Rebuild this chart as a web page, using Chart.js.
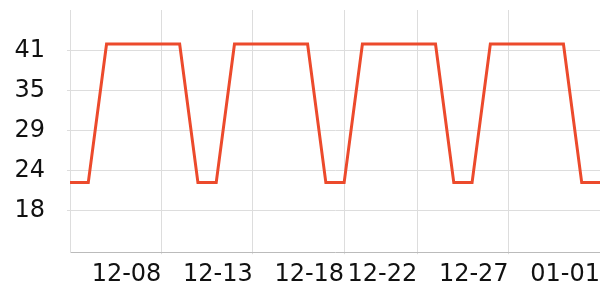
<!DOCTYPE html>
<html>
<head>
<meta charset="utf-8">
<script src="https://cdn.jsdelivr.net/npm/chart.js@4.4.0/dist/chart.umd.min.js"></script>
<style>
  html, body { margin: 0; padding: 0; background: #fff; }
  #wrap { width: 600px; height: 300px; }
</style>
</head>
<body>
<div id="wrap"><canvas id="c"></canvas></div>
<script>
// daily values, 12-03 .. 01-01
const days = ['12-03','12-04','12-05','12-06','12-07','12-08','12-09','12-10','12-11','12-12',
              '12-13','12-14','12-15','12-16','12-17','12-18','12-19','12-20','12-21','12-22',
              '12-23','12-24','12-25','12-26','12-27','12-28','12-29','12-30','12-31','01-01'];
const values = [21.8, 21.8, 41.7, 41.7, 41.7, 41.7, 41.7, 21.8, 21.8, 41.7,
                41.7, 41.7, 41.7, 41.7, 21.8, 21.8, 41.7, 41.7, 41.7, 41.7,
                41.7, 21.8, 21.8, 41.7, 41.7, 41.7, 41.7, 41.7, 21.8, 21.8];
const shownDays = ['12-08', '12-13', '12-18', '12-22', '12-27', '01-01'];
const yTicks = [17.75, 23.5, 29.25, 35, 40.75];
const yTickLabels = ['18', '24', '29', '35', '41'];

const font = { family: 'DejaVu Sans', size: 24 };

new Chart(document.getElementById('c'), {
    type: 'line',
    data: {
        labels: days,
        datasets: [{
            data: values,
            borderColor: '#ec4a2c',
            borderWidth: 3,
            pointRadius: 0,
            tension: 0,
            fill: false
        }]
    },
    options: {
        responsive: true,
        maintainAspectRatio: false,
        animation: false,
        layout: { padding: { left: 15, top: 10, right: 0, bottom: 5 } },
        plugins: { legend: { display: false }, tooltip: { enabled: false } },
        scales: {
            x: {
                grid: { color: '#dddddd', tickLength: 2 },
                border: { color: '#bbbbbb' },
                afterFit: (axis) => {
                    axis.paddingLeft = 0;
                    axis.paddingRight = 0;
                },
                ticks: {
                    autoSkip: false,
                    maxRotation: 0,
                    align: 'end',
                    padding: 6,
                    color: '#111',
                    font: font,
                    callback: function (value) {
                        const lab = this.getLabelForValue(value);
                        return shownDays.includes(lab) ? lab : null;
                    }
                }
            },
            y: {
                min: 11.8,
                max: 46.6,
                grid: { color: '#dddddd', tickLength: 3 },
                border: { color: '#dddddd' },
                afterBuildTicks: (axis) => {
                    axis.ticks = yTicks.map(v => ({ value: v }));
                },
                afterFit: (axis) => {
                    axis.width = 55;
                    axis.paddingTop = 0;
                    axis.paddingBottom = 0;
                },
                ticks: {
                    padding: 22,
                    color: '#111',
                    font: font,
                    callback: (value) => yTickLabels[yTicks.indexOf(value)]
                }
            }
        }
    }
});
</script>
</body>
</html>
